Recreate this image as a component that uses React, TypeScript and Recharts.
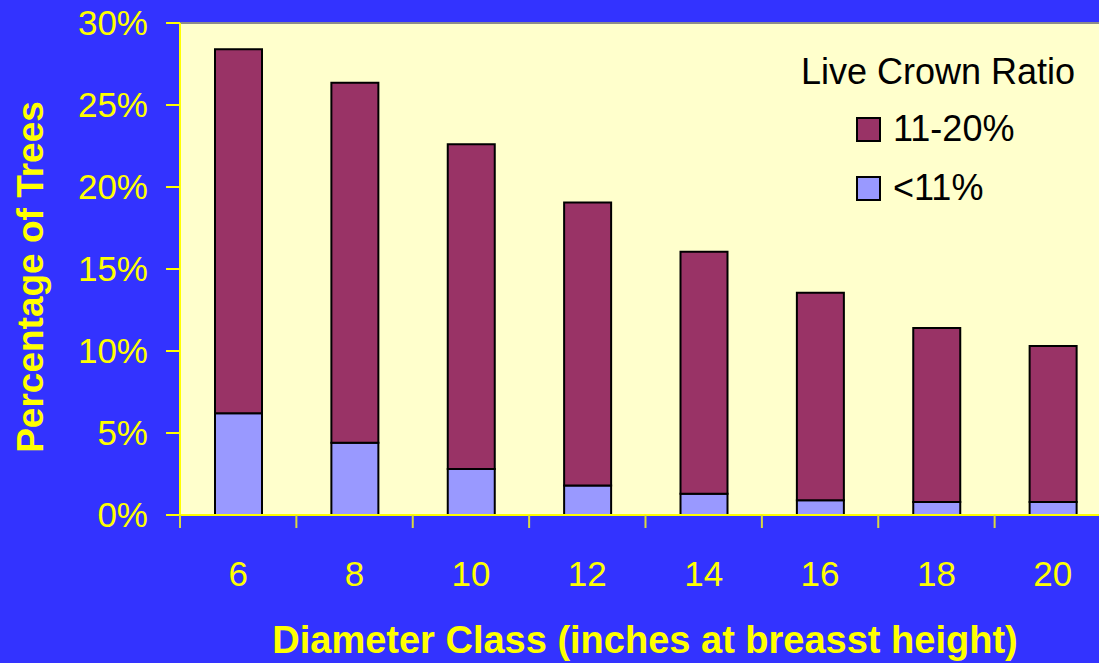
import { BarChart, Bar, XAxis, YAxis, CartesianGrid, Legend, ReferenceLine, Label } from "recharts";

const diameterClasses = ["6", "8", "10", "12", "14", "16", "18", "20"];
const under11 = [6.2, 4.4, 2.8, 1.8, 1.3, 0.9, 0.8, 0.8];
const from11to20 = [22.2, 21.95, 19.8, 17.25, 14.75, 12.65, 10.6, 9.5];
const yTicks = [0, 5, 10, 15, 20, 25, 30];

const seriesNames = ["11-20%", "<11%"];
const seriesColors = ["#993366", "#9999FF"];

const data = diameterClasses.map((d, i) => ({
  diameter: d,
  low: under11[i],
  mid: from11to20[i],
}));

const FONT = "Arial, 'Liberation Sans', sans-serif";
const YELLOW = "#FFFF00";
const BAND = 931 / diameterClasses.length;

const XTick = ({ x, y, payload }: { x?: number; y?: number; payload?: { value: string } }) => {
  const cx = x ?? 0;
  const cy = y ?? 0;
  return (
    <g>
      <line x1={cx - BAND / 2} x2={cx - BAND / 2} y1={cy} y2={cy + 13} stroke="#D8D840" strokeWidth={2} />
      <text x={cx} y={cy + 71} textAnchor="middle" fill={YELLOW} fontSize={35} fontFamily={FONT}>
        {payload?.value}
      </text>
    </g>
  );
};

const LegendBox = () => (
  <div style={{ fontFamily: FONT, fontSize: 36, color: "#000", position: "relative", width: 300, height: 200 }}>
    <div style={{ position: "absolute", left: 11, top: 12, lineHeight: "40px", whiteSpace: "nowrap" }}>Live Crown Ratio</div>
    {seriesNames.map((name, i) => (
      <div key={name} style={{ position: "absolute", left: 66, top: 69 + i * 59, height: 40, display: "flex", alignItems: "center" }}>
        <div style={{ width: 21, height: 21, background: seriesColors[i], border: "2px solid #000", marginRight: 12 }} />
        <span style={{ lineHeight: "40px", whiteSpace: "nowrap" }}>{name}</span>
      </div>
    ))}
  </div>
);

export default function App() {
  return (
    <div style={{ position: "fixed", left: 0, top: 0, width: 1099, height: 663, overflow: "hidden", background: "#3333FF" }}>
      <BarChart width={1115} height={663} data={data} margin={{ top: 23, right: 4, left: 0, bottom: 0 }}>
        <CartesianGrid horizontal={false} vertical={false} fill="#FFFFCC" />
        <ReferenceLine y={30} stroke="#8C8C8C" strokeWidth={2} />
        <XAxis
          dataKey="diameter"
          height={148}
          axisLine={{ stroke: YELLOW, strokeWidth: 2 }}
          tickLine={false}
          tickSize={0}
          tickMargin={0}
          tick={<XTick />}
          interval={0}
        >
          <Label
            content={() => (
              <text x={645} y={653} textAnchor="middle" fill={YELLOW} fontSize={38} fontWeight="bold" fontFamily={FONT}>
                Diameter Class (inches at breasst height)
              </text>
            )}
          />
        </XAxis>
        <YAxis
          width={180}
          domain={[0, 30]}
          ticks={yTicks}
          tickFormatter={(v) => `${v}%`}
          tick={{ fill: YELLOW, fontSize: 35, fontFamily: FONT }}
          tickSize={14}
          tickMargin={18}
          tickLine={{ stroke: YELLOW, strokeWidth: 2 }}
          axisLine={{ stroke: YELLOW, strokeWidth: 2 }}
        >
          <Label
            content={() => (
              <text
                x={43}
                y={277}
                transform="rotate(-90, 43, 277)"
                textAnchor="middle"
                fill={YELLOW}
                fontSize={37}
                fontWeight="bold"
                fontFamily={FONT}
              >
                Percentage of Trees
              </text>
            )}
          />
        </YAxis>
        <Legend
          layout="horizontal"
          verticalAlign="middle"
          align="center"
          content={<LegendBox />}
          wrapperStyle={{ left: 790, top: 40, width: 300, height: 200 }}
        />
        <Bar dataKey="low" name={seriesNames[1]} stackId="a" fill={seriesColors[1]} stroke="#000" strokeWidth={2} barSize={47} isAnimationActive={false} />
        <Bar dataKey="mid" name={seriesNames[0]} stackId="a" fill={seriesColors[0]} stroke="#000" strokeWidth={2} barSize={47} isAnimationActive={false} />
      </BarChart>
    </div>
  );
}
